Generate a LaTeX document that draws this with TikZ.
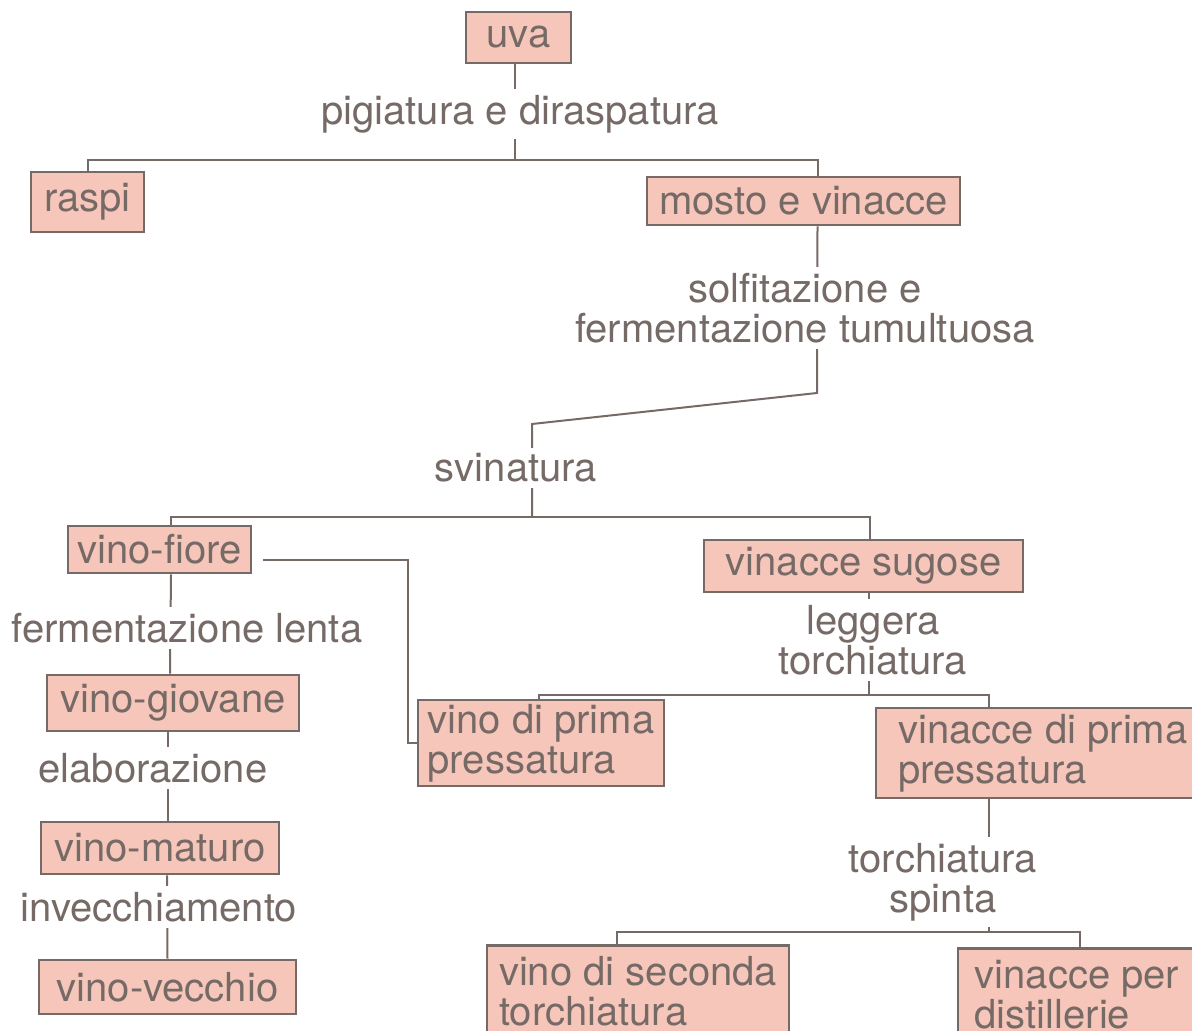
\documentclass[tikz,border=0pt]{standalone}
\usepackage{fontspec}
\setmainfont{TeX Gyre Heros}
\definecolor{boxfill}{RGB}{246,198,186}
\definecolor{ink}{RGB}{118,106,102}
\begin{document}
\begin{tikzpicture}[x=0.5pt,y=-0.5pt,font=\fontsize{20}{20}\selectfont,
  box/.style={draw=ink,fill=boxfill,line width=1.4pt,text=ink,inner sep=0pt},
  twobox/.style={box,align=left},
  lab/.style={fill=white,text=ink,inner xsep=2pt,inner ysep=3pt,align=center},
  link/.style={draw=ink,line width=1pt}]
\useasboundingbox (0,0) rectangle (1192,1031);
\node[box,minimum width=52.5pt,minimum height=25.5pt] (uva) at (518.5,37.5) {uva};
\node[box,minimum width=56.5pt,minimum height=30pt] (raspi) at (87.5,202) {raspi};
\node[box,minimum width=156.5pt,minimum height=24pt] (mosto) at (803.5,201) {mosto e vinacce};
\node[box,minimum width=91.5pt,minimum height=23.5pt] (vfiore) at (159.5,549.5) {vino-fiore};
\node[box,minimum width=159.5pt,minimum height=26pt] (vsugose) at (863.5,566) {vinacce sugose};
\node[twobox,minimum width=123pt,minimum height=43pt] (vprima) at (541,743) {vino di prima\\pressatura};
\node[twobox,minimum width=167pt,minimum height=45pt] (vinprima) at (1043,753) {vinacce di prima\\pressatura};
\node[box,minimum width=126pt,minimum height=28pt] (vgiovane) at (173,703) {vino-giovane};
\node[box,minimum width=119pt,minimum height=26pt] (vmaturo) at (160,848) {vino-maturo};
\node[box,minimum width=128.5pt,minimum height=27pt] (vvecchio) at (167.5,987) {vino-vecchio};
\node[twobox,minimum width=151pt,minimum height=46pt,anchor=north] (vseconda) at (638,944) {vino di seconda\\torchiatura};
\node[twobox,minimum width=119pt,minimum height=46pt,anchor=north] (vinper) at (1077,947) {vinacce per\\distillerie};
\coordinate (j1) at (515,160);
\coordinate (k1) at (817,393);
\coordinate (k2) at (532,424);
\coordinate (j3) at (532,517);
\coordinate (k3) at (408,560);
\coordinate (j7) at (869,695);
\coordinate (j8) at (989,932);
\draw[link] ([xshift=-1.75pt]uva.south) -- (j1);
\draw[link] (raspi.north) |- (j1) -| ([xshift=7pt]mosto.north);
\draw[link] ([xshift=7pt]mosto.south) -- (k1) -- (k2) -- (j3);
\draw[link] ([xshift=5.75pt]vfiore.north) |- (j3) -| ([xshift=3.25pt]vsugose.north);
\draw[link] ([xshift=5.5pt,yshift=-5.25pt]vfiore.east) -- (k3) |- (vprima.west);
\draw[link] ([xshift=2.75pt]vsugose.south) -- (j7);
\draw[link] ([xshift=-1pt]vprima.north) |- (j7) -| ([xshift=-27pt]vinprima.north);
\draw[link] ([xshift=-27pt]vinprima.south) -- (j8);
\draw[link] ([xshift=-10.5pt]vseconda.north) |- (j8) -| ([xshift=1.5pt]vinper.north);
\draw[link] ([xshift=5.75pt]vfiore.south) -- ([xshift=-1.5pt]vgiovane.north);
\draw[link] ([xshift=-2.5pt]vgiovane.south) -- ([xshift=4pt]vmaturo.north);
\draw[link] ([xshift=3.5pt]vmaturo.south) -- (vvecchio.north);
\node[lab] (l1) at (520,114) {pigiatura e diraspatura};
\node[lab] (l2) at (805,308) {solfitazione e\\fermentazione tumultuosa};
\node[lab] (l3) at (516,468) {svinatura};
\node[lab] (l4) at (187,628) {fermentazione lenta};
\node[lab] (l5) at (153,768) {elaborazione};
\node[lab] (l6) at (159,907) {invecchiamento};
\node[lab] (l7) at (873,640) {leggera\\torchiatura};
\node[lab] (l8) at (943,882) {torchiatura\\spinta};
\end{tikzpicture}
\end{document}
